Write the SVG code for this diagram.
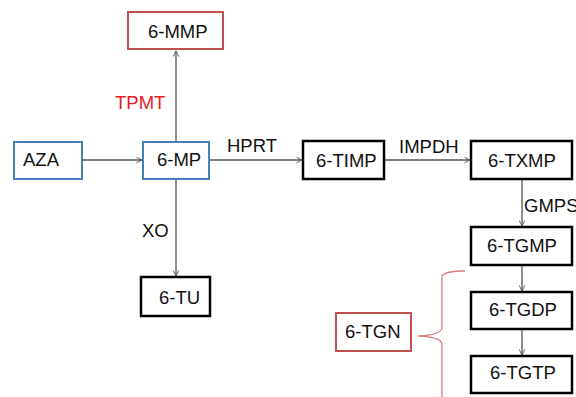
<svg xmlns="http://www.w3.org/2000/svg" width="576" height="397" viewBox="0 0 576 397">
<defs>
<style>
.box{fill:#fff;stroke:#000;stroke-width:2.5}
.blue{fill:#fff;stroke:#4a7ebb;stroke-width:2}
.red{fill:#fff;stroke:#c0504d;stroke-width:2}
.t{font-family:"Liberation Sans",Arial,sans-serif;font-size:18.5px;fill:#111}
.lbl{font-family:"Liberation Sans",Arial,sans-serif;font-size:18.5px;fill:#111}
.e{stroke:#555;stroke-width:1.3;fill:none;marker-end:url(#a)}
</style>
<marker id="a" viewBox="0 0 10 10" refX="9" refY="5" markerWidth="7" markerHeight="7" markerUnits="userSpaceOnUse" orient="auto">
<path d="M1,1 L9,5 L1,9" fill="none" stroke="#555" stroke-width="1.3"/>
</marker>
</defs>
<rect width="576" height="397" fill="#fff"/>
<g id="connectors">
<line class="e" x1="82" y1="160" x2="142" y2="160"/>
<line class="e" x1="176" y1="142" x2="176" y2="51"/>
<line class="e" x1="176" y1="179" x2="176" y2="276"/>
<line class="e" x1="209" y1="160" x2="302" y2="160"/>
<line class="e" x1="384" y1="160" x2="470" y2="160"/>
<line class="e" x1="522" y1="179" x2="522" y2="226"/>
<line class="e" x1="522" y1="265" x2="522" y2="291"/>
<line class="e" x1="522" y1="329" x2="522" y2="355"/>
<path d="M465,271 Q445,271 442,276 L442,328 Q441,335 418,336 Q441,337 442,344 L442,397" fill="none" stroke="#d9807d" stroke-width="1.3"/>
<text class="lbl" x="115" y="109" style="fill:#e8201f">TPMT</text>
<text class="lbl" x="227" y="152">HPRT</text>
<text class="lbl" x="399" y="153">IMPDH</text>
<text class="lbl" x="524" y="212">GMPS</text>
<text class="lbl" x="142" y="237">XO</text>
</g>
<g id="n-6MMP"><rect class="red" x="128" y="12" width="95" height="37"/><text class="t" x="148" y="38">6-MMP</text></g>
<g id="n-AZA"><rect class="blue" x="14" y="142" width="68" height="37"/><text class="t" x="23" y="166">AZA</text></g>
<g id="n-6MP"><rect class="blue" x="143" y="142" width="66" height="37"/><text class="t" x="157" y="166">6-MP</text></g>
<g id="n-6TIMP"><rect class="box" x="303" y="141" width="81" height="38"/><text class="t" x="316" y="167">6-TIMP</text></g>
<g id="n-6TXMP"><rect class="box" x="471" y="141" width="101" height="38"/><text class="t" x="488" y="167">6-TXMP</text></g>
<g id="n-6TGMP"><rect class="box" x="471" y="227" width="101" height="38"/><text class="t" x="487" y="252">6-TGMP</text></g>
<g id="n-6TGDP"><rect class="box" x="471" y="292" width="101" height="37"/><text class="t" x="489" y="316">6-TGDP</text></g>
<g id="n-6TGTP"><rect class="box" x="471" y="356" width="101" height="37"/><text class="t" x="490" y="379">6-TGTP</text></g>
<g id="n-6TU"><rect class="box" x="141" y="277" width="69" height="39"/><text class="t" x="159" y="304">6-TU</text></g>
<g id="n-6TGN"><rect class="red" x="336" y="313" width="75" height="38"/><text class="t" x="345" y="338">6-TGN</text></g>
</svg>
